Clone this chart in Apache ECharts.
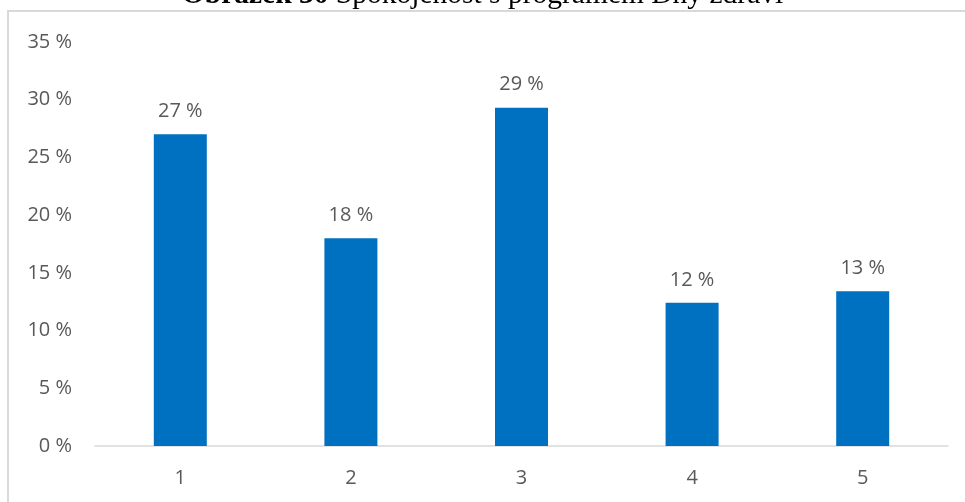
<!DOCTYPE html>
<html>
<head>
<meta charset="utf-8">
<style>
  html, body { margin: 0; padding: 0; background: #fff; }
  #chart { width: 965px; height: 502px; }
</style>
<script src="https://cdn.jsdelivr.net/npm/echarts@6/dist/echarts.min.js"></script>
</head>
<body>
<div id="chart"></div>
<script>
// Spokojenost s programem Dny zdraví – share of answers per rating
const categories = ['1', '2', '3', '4', '5'];
const shares = [27.0, 18.0, 29.3, 12.4, 13.4];
const yTicks = [0, 5, 10, 15, 20, 25, 30, 35];

const chart = echarts.init(document.getElementById('chart'), null, { renderer: 'canvas' });

const labelFont = 'Open Sans';
const pct = v => Math.round(v) + ' %';

chart.setOption({
  animation: false,
  backgroundColor: '#ffffff',
  grid: { left: 95, right: 17, top: 42, bottom: 56 },
  graphic: [
    // caption above the chart frame
    {
      type: 'text',
      left: 'center',
      top: -20,
      style: {
        text: '{b|Obrázek 30} Spokojenost s programem Dny zdraví',
        font: '29.5px "Liberation Serif"',
        fill: '#000',
        rich: {
          b: { font: 'bold 29.5px "Liberation Serif"', fill: '#000' }
        }
      }
    },
    // chart frame edges
    { type: 'rect', shape: { x: 7, y: 10, width: 958, height: 2 }, style: { fill: '#d9d9d9' }, silent: true },
    { type: 'rect', shape: { x: 7, y: 10, width: 2, height: 492 }, style: { fill: '#d9d9d9' }, silent: true }
  ],
  xAxis: {
    type: 'category',
    data: categories,
    axisLine: { lineStyle: { color: '#d9d9d9', width: 1.5 } },
    axisTick: { show: false },
    axisLabel: { color: '#595959', fontSize: 20, fontFamily: labelFont, margin: 22 }
  },
  yAxis: {
    type: 'value',
    min: 0,
    max: 35,
    interval: 5,
    splitLine: { show: false },
    axisLine: { show: false },
    axisTick: { show: false },
    axisLabel: {
      color: '#595959', fontSize: 20, fontFamily: labelFont, margin: 23,
      formatter: v => yTicks.includes(v) ? v + ' %' : ''
    }
  },
  series: [{
    type: 'bar',
    data: shares,
    barWidth: 53,
    itemStyle: { color: '#0070c0' },
    label: {
      show: true,
      position: 'top',
      distance: 13,
      color: '#595959',
      fontSize: 20,
      fontFamily: labelFont,
      formatter: p => pct(p.value)
    }
  }]
});
</script>
</body>
</html>
